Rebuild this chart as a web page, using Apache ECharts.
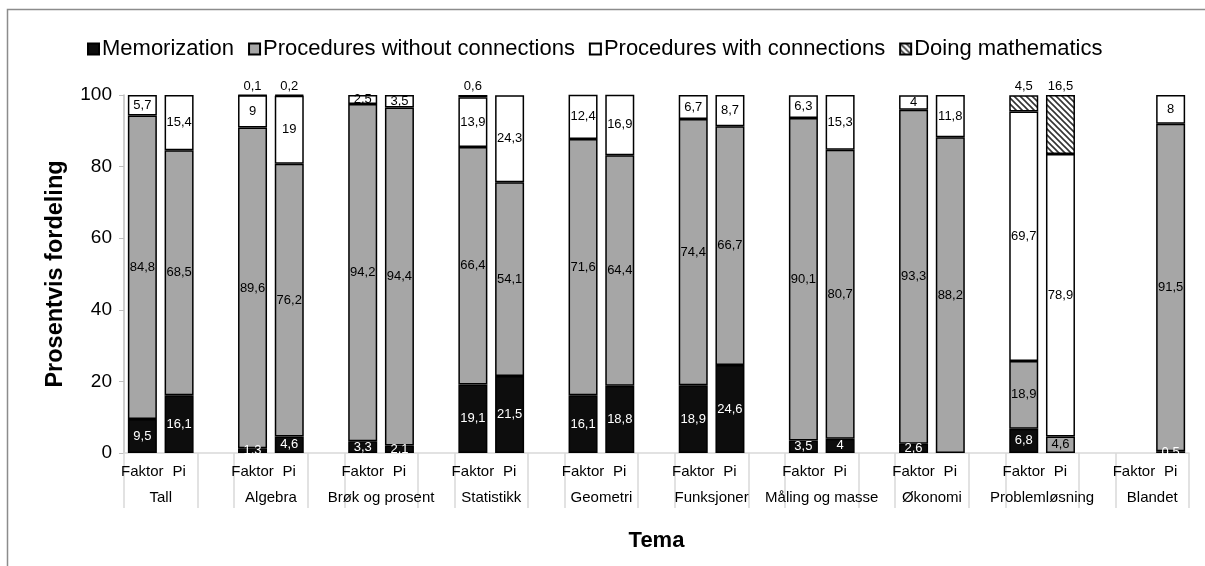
<!DOCTYPE html>
<html>
<head>
<meta charset="utf-8">
<script src="https://cdn.jsdelivr.net/npm/echarts@6/dist/echarts.min.js"></script>
<style>
  html, body { margin: 0; padding: 0; background: #fff; }
  #chart { width: 1205px; height: 566px; }
</style>
</head>
<body>
<div id="chart"></div>
<script>
// Topics and the two textbook series compared inside each topic
const groups = ['Tall', 'Algebra', 'Brøk og prosent', 'Statistikk', 'Geometri',
                'Funksjoner', 'Måling og masse', 'Økonomi', 'Problemløsning', 'Blandet'];
const roles = ['Faktor', 'Pi'];

// Percent shares per topic (null = no tasks in that category)
const memorizationFaktor = [9.5, 1.3, 3.3, 19.1, 16.1, 18.9, 3.5, 2.6, 6.8, null];
const memorizationPi     = [16.1, 4.6, 2.1, 21.5, 18.8, 24.6, 4, null, null, 0.5];
const withoutFaktor      = [84.8, 89.6, 94.2, 66.4, 71.6, 74.4, 90.1, 93.3, 18.9, null];
const withoutPi          = [68.5, 76.2, 94.4, 54.1, 64.4, 66.7, 80.7, 88.2, 4.6, 91.5];
const withFaktor         = [5.7, 9, 2.5, 13.9, 12.4, 6.7, 6.3, 4, 69.7, null];
const withPi             = [15.4, 19, 3.5, 24.3, 16.9, 8.7, 15.3, 11.8, 78.9, 8];
const doingFaktor        = [null, 0.1, null, 0.6, null, null, null, null, 4.5, null];
const doingPi            = [null, 0.2, null, null, null, null, null, null, 16.5, null];

const seriesNames = ['Memorization', 'Procedures without connections',
                     'Procedures with connections', 'Doing mathematics'];
const yTicks = [0, 20, 40, 60, 80, 100];

// Slots along the axis: Faktor, Pi, then an empty spacer between topics
const slotKeys = [], slotRoles = [];
groups.forEach((g, k) => {
  roles.forEach(r => { slotKeys.push(g + ' ' + r); slotRoles.push(r); });
  if (k < groups.length - 1) { slotKeys.push(g + ' gap'); slotRoles.push(''); }
});
function toSlots(faktor, pi) {
  const out = [];
  groups.forEach((g, k) => {
    out.push(faktor[k], pi[k]);
    if (k < groups.length - 1) out.push(null);
  });
  return out;
}
// Boundary points between slots, used for topic names and separator lines
const boundaryKeys = [];
for (let i = 0; i <= slotKeys.length; i++) boundaryKeys.push('b' + i);

// Diagonal hatch fill for "Doing mathematics"
function hatch() {
  const c = document.createElement('canvas');
  const s = 6;
  c.width = s; c.height = s;
  const ctx = c.getContext('2d');
  ctx.fillStyle = '#ffffff';
  ctx.fillRect(0, 0, s, s);
  ctx.strokeStyle = '#333333';
  ctx.lineWidth = 1.6;
  ctx.beginPath();
  ctx.moveTo(-1, -1); ctx.lineTo(s + 1, s + 1);
  ctx.moveTo(-1, s - 1); ctx.lineTo(1, s + 1);
  ctx.moveTo(s - 1, -1); ctx.lineTo(s + 1, 1);
  ctx.stroke();
  return c;
}

const FONT = "'Liberation Sans', Arial, sans-serif";
const fmt = p => String(p.value).replace('.', ',');

function barSeries(name, data, fill, labelColor, labelPos) {
  return {
    name: name,
    type: 'bar',
    stack: 'total',
    xAxisIndex: 0,
    barWidth: 29,
    data: data,
    itemStyle: { color: fill, borderColor: '#000', borderWidth: 1.5 },
    label: {
      show: true,
      position: labelPos,
      distance: 2,
      formatter: fmt,
      color: labelColor,
      fontFamily: FONT,
      fontSize: 13
    }
  };
}

const chart = echarts.init(document.getElementById('chart'), null, { renderer: 'canvas' });
chart.setOption({
  animation: false,
  backgroundColor: '#fff',
  graphic: [{
    type: 'rect',
    silent: true,
    shape: { x: 7.5, y: 9.5, width: 1400, height: 800 },
    style: { fill: 'none', stroke: '#8c8c8c', lineWidth: 1.5 }
  }],
  legend: {
    top: 33,
    left: 82,
    itemWidth: 11,
    itemHeight: 11,
    itemGap: 14,
    icon: 'rect',
    textStyle: { fontFamily: FONT, fontSize: 22, color: '#000', padding: [0, 0, 0, -2] },
    data: seriesNames
  },
  grid: { left: 124, right: 16, top: 95, bottom: 113, containLabel: false },
  xAxis: [{
    type: 'category',
    position: 'bottom',
    data: slotKeys,
    boundaryGap: true,
    axisLine: { lineStyle: { color: '#d9d9d9', width: 1.5 } },
    axisTick: { show: false },
    axisLabel: {
      interval: 0,
      margin: 11,
      fontFamily: FONT,
      fontSize: 15,
      color: '#000',
      formatter: (v, i) => slotRoles[i]
    },
    name: 'Tema',
    nameLocation: 'middle',
    nameGap: 77,
    nameTextStyle: { fontFamily: FONT, fontSize: 22, fontWeight: 'bold', color: '#000' }
  }, {
    type: 'category',
    position: 'bottom',
    data: boundaryKeys,
    boundaryGap: false,
    axisLine: { show: false },
    axisTick: {
      show: true,
      length: 55,
      interval: (i) => i % 3 !== 1,
      lineStyle: { color: '#d9d9d9', width: 1.5 }
    },
    axisLabel: {
      interval: 0,
      margin: 37,
      fontFamily: FONT,
      fontSize: 15,
      color: '#000',
      formatter: (v, i) => (i % 3 === 1 ? groups[(i - 1) / 3] : '')
    }
  }],
  yAxis: {
    type: 'value',
    min: yTicks[0],
    max: yTicks[yTicks.length - 1],
    interval: 20,
    splitLine: { show: false },
    axisLine: { show: true, lineStyle: { color: '#bfbfbf', width: 1.5 } },
    axisTick: { show: true, length: 5, lineStyle: { color: '#bfbfbf' } },
    axisLabel: { margin: 12, fontFamily: FONT, fontSize: 19, color: '#000' },
    name: 'Prosentvis fordeling',
    nameLocation: 'middle',
    nameGap: 56,
    nameTextStyle: { fontFamily: FONT, fontSize: 23.5, fontWeight: 'bold', color: '#000' }
  },
  series: [
    barSeries(seriesNames[0], toSlots(memorizationFaktor, memorizationPi), '#0d0d0d', '#fff', 'inside'),
    barSeries(seriesNames[1], toSlots(withoutFaktor, withoutPi), '#a6a6a6', '#000', 'inside'),
    barSeries(seriesNames[2], toSlots(withFaktor, withPi), '#ffffff', '#000', 'inside'),
    barSeries(seriesNames[3], toSlots(doingFaktor, doingPi), { image: hatch(), repeat: 'repeat' }, '#000', 'top')
  ]
});
</script>
</body>
</html>
